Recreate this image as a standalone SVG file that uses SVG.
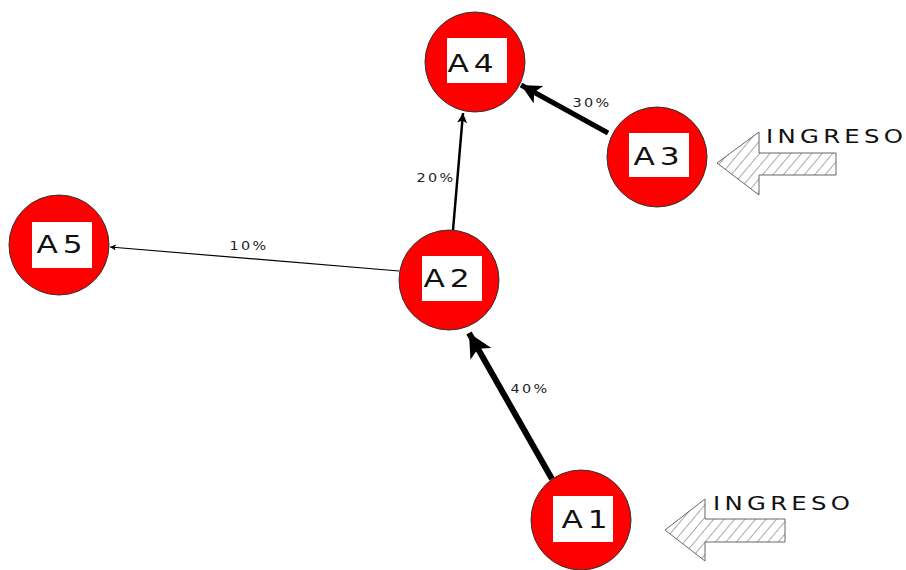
<svg xmlns="http://www.w3.org/2000/svg" width="906" height="570" viewBox="0 0 906 570">
<defs>
<style>
.node circle{fill:#ff0000;stroke:#333;stroke-width:1}
.node rect{fill:#fff}
.node text{font-family:"DejaVu Sans",sans-serif;font-size:25px;letter-spacing:4px;fill:#111;text-anchor:middle}
.pct{font-family:"DejaVu Sans",sans-serif;font-size:12px;letter-spacing:2px;fill:#222;text-anchor:middle}
.edge{stroke:#000;fill:none}
.ing{font-family:"DejaVu Sans",sans-serif;font-size:20px;letter-spacing:3.5px;fill:#111}
.harrow{fill:url(#hatch);stroke:#666;stroke-width:1}
</style>
<pattern id="hatch" patternUnits="userSpaceOnUse" width="8" height="8" patternTransform="rotate(40)">
<rect width="8" height="8" fill="#fff"/>
<line x1="0" y1="0" x2="0" y2="8" stroke="#555" stroke-width="1"/>
</pattern>
<marker id="ah" viewBox="0 0 10 10" refX="10" refY="5" markerWidth="4" markerHeight="4" markerUnits="strokeWidth" orient="auto">
<path d="M0,0 L10,5 L0,10 L2.5,5 Z" fill="#000"/>
</marker>
<marker id="ahs" viewBox="0 0 10 10" refX="10" refY="5" markerWidth="5" markerHeight="5" markerUnits="strokeWidth" orient="auto">
<path d="M0,0 L10,5 L0,10 L2.5,5 Z" fill="#000"/>
</marker>
</defs>
<rect width="906" height="570" fill="#fff"/>
<g id="connectors">
<line class="edge" x1="552" y1="479" x2="469" y2="333" stroke-width="6" marker-end="url(#ah)"/>
<line class="edge" x1="608" y1="133" x2="521" y2="85" stroke-width="5" marker-end="url(#ah)"/>
<line class="edge" x1="453" y1="230" x2="463" y2="113" stroke-width="2.5" marker-end="url(#ah)"/>
<line class="edge" x1="399" y1="271" x2="110" y2="247" stroke-width="1.2" marker-end="url(#ahs)"/>
<text class="pct" transform="translate(530,393) scale(1.2,1)">40%</text>
<text class="pct" transform="translate(592,107) scale(1.2,1)">30%</text>
<text class="pct" transform="translate(436,182) scale(1.2,1)">20%</text>
<text class="pct" transform="translate(249,250) scale(1.2,1)">10%</text>
</g>
<g id="A4" class="node"><circle cx="475" cy="62" r="50"/><rect x="447" y="38" width="60" height="45"/><text transform="translate(473,72) scale(1.25,1)">A4</text></g>
<g id="A3" class="node"><circle cx="657" cy="157" r="50"/><rect x="629" y="133" width="60" height="44"/><text transform="translate(659,165) scale(1.25,1)">A3</text></g>
<g id="A5" class="node"><circle cx="59" cy="245" r="50"/><rect x="32" y="222" width="60" height="46"/><text transform="translate(62,253) scale(1.25,1)">A5</text></g>
<g id="A2" class="node"><circle cx="449" cy="280" r="50"/><rect x="422" y="256" width="60" height="45"/><text transform="translate(449,287) scale(1.25,1)">A2</text></g>
<g id="A1" class="node"><circle cx="581" cy="520" r="50"/><rect x="553" y="496" width="60" height="46"/><text transform="translate(587,528) scale(1.25,1)">A1</text></g>
<g id="ingreso1">
<polygon class="harrow" points="717,163 759,132 759,153 836,153 836,175 759,175 759,195"/>
<text class="ing" transform="translate(766,143) scale(1.22,1)">INGRESO</text>
</g>
<g id="ingreso2">
<polygon class="harrow" points="665,530 705,499 705,519 785,519 785,542 705,542 705,561"/>
<text class="ing" transform="translate(713,510) scale(1.22,1)">INGRESO</text>
</g>
</svg>
